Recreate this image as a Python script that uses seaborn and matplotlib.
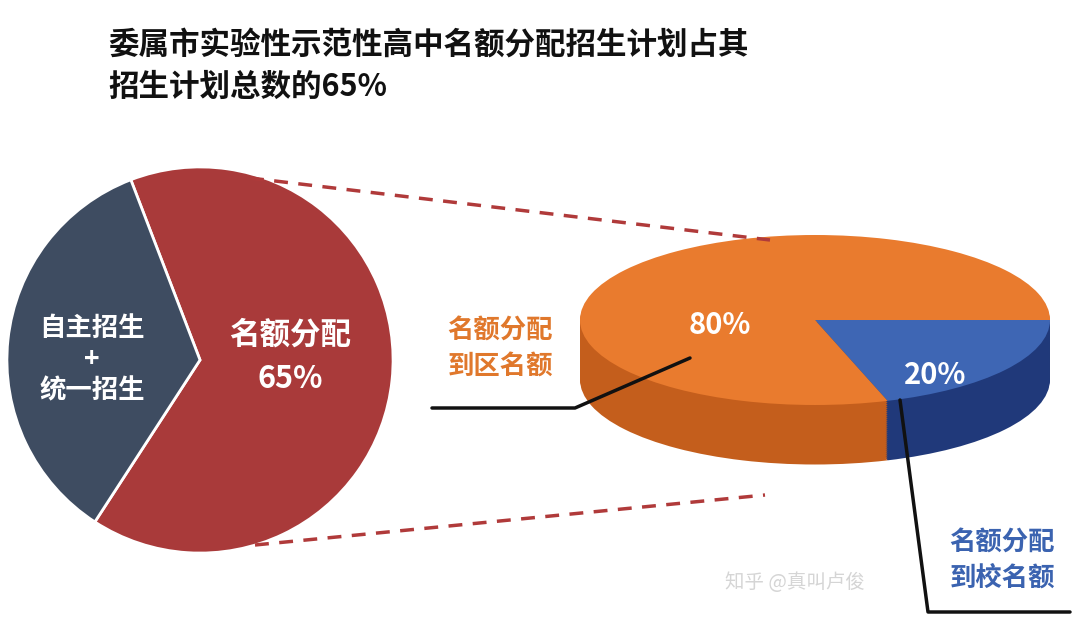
import matplotlib.pyplot as plt
import seaborn as sns
from matplotlib.lines import Line2D

sns.set_theme(style="white")
plt.rcParams['font.family'] = ['Noto Sans CJK SC', 'DejaVu Sans']

title_lines = ["委属市实验性示范性高中名额分配招生计划占其", "招生计划总数的65%"]
left_labels = ["名额分配\n65%", "自主招生\n+\n统一招生"]
left_values = [65, 35]
left_colors = ["#A93A3A", "#3E4C61"]
right_labels = ["20%", "80%"]
right_values = [20, 80]
right_top = ["#3E66B4", "#E97B2E"]
right_side = ["#20397A", "#C45E1C"]

W, H = 1080, 628
fig = plt.figure(figsize=(W / 100, H / 100), dpi=100)
fig.patch.set_facecolor("white")

def box(x0, y0, x1, y1):
    return [x0 / W, 1 - y1 / H, (x1 - x0) / W, (y1 - y0) / H]

# left pie
axl = fig.add_axes(box(5, 165, 395, 555))
axl.pie(left_values, colors=left_colors, startangle=-123, counterclock=True,
        wedgeprops=dict(edgecolor="white", linewidth=2))
axl.set_aspect("equal")
axl.set_xlim(-1.01, 1.01)
axl.set_ylim(-1.01, 1.01)
fig.text(290 / W, 1 - 357 / H, left_labels[0], color="white", fontsize=22,
         fontweight="bold", ha="center", va="center", linespacing=1.5)
fig.text(92 / W, 1 - 360 / H, left_labels[1], color="white", fontsize=19,
         fontweight="bold", ha="center", va="center", linespacing=1.2)

# right 3D pie (stacked layers)
axr = fig.add_axes(box(580, 235, 1050, 470))
depth = 0.7
n = 30
for i in range(n, 0, -1):
    d = depth * i / n
    axr.pie(right_values, colors=right_side, startangle=0, counterclock=False,
            center=(0, -d), wedgeprops=dict(linewidth=0))
axr.pie(right_values, colors=right_top, startangle=0, counterclock=False,
        wedgeprops=dict(linewidth=0))
axr.set_aspect("auto")
axr.set_xlim(-1, 1)
axr.set_ylim(-1 - 235 / 85 + 2, 1)
axr.axis("off")

fig.text(720 / W, 1 - 325 / H, right_labels[1], color="white", fontsize=21,
         fontweight="bold", ha="center", va="center")
fig.text(935 / W, 1 - 375 / H, right_labels[0], color="white", fontsize=21,
         fontweight="bold", ha="center", va="center")
fig.text(500 / W, 1 - 348 / H, "名额分配\n到区名额", color="#E0782C", fontsize=19,
         fontweight="bold", ha="center", va="center", linespacing=1.4)
fig.text(1002 / W, 1 - 560 / H, "名额分配\n到校名额", color="#3B63B0", fontsize=19,
         fontweight="bold", ha="center", va="center", linespacing=1.4)

# leader lines
def fline(xs, ys, **kw):
    fig.add_artist(Line2D([x / W for x in xs], [1 - y / H for y in ys],
                          transform=fig.transFigure, **kw))

fline([432, 575, 690], [408, 408, 358], color="#111111", lw=2.5)
fline([900, 928, 1070], [400, 612, 612], color="#111111", lw=2.5)
fline([250, 770], [178, 240], color="#B03A3A", lw=2.5, ls=(0, (4, 3)))
fline([255, 765], [545, 495], color="#B03A3A", lw=2.5, ls=(0, (4, 3)))

# title
fig.text(108 / W, 1 - 45 / H, title_lines[0], fontsize=22, fontweight="bold",
         color="#111111", va="center")
fig.text(108 / W, 1 - 87 / H, title_lines[1], fontsize=22, fontweight="bold",
         color="#111111", va="center")

# watermark
fig.text(795 / W, 1 - 582 / H, "知乎 @真叫卢俊", fontsize=14, color="#D5D5D5",
         ha="center", va="center")

fig.savefig("out.png", dpi=100)
